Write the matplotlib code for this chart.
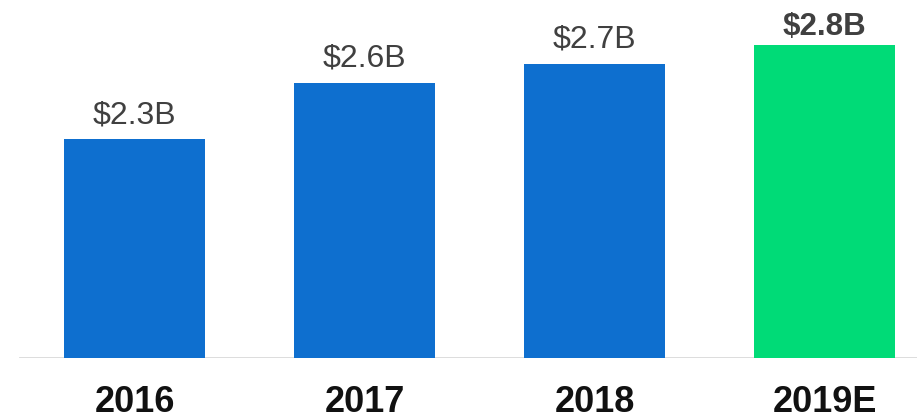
import matplotlib
matplotlib.use("Agg")
import matplotlib.pyplot as plt

categories = ["2016", "2017", "2018", "2019E"]
values = [2.3, 2.6, 2.7, 2.8]
labels = ["$2.3B", "$2.6B", "$2.7B", "$2.8B"]
colors = ["#0E6FCF", "#0E6FCF", "#0E6FCF", "#00DB77"]
bold_flags = [False, False, False, True]

plt.rcParams['font.family'] = ['Liberation Sans', 'DejaVu Sans']

fig = plt.figure(figsize=(9.17, 4.18), dpi=100)
ax = fig.add_axes([0, 0.1443, 1, 0.8557])
x = list(range(len(categories)))
ax.bar(x, values, width=0.613, color=colors, zorder=2)
ax.set_xlim(-0.585, 3.402)
ax.set_ylim(1.137, 3.04)

for xi, v, lab, b in zip(x, values, labels, bold_flags):
    ax.annotate(lab, (xi, v), xytext=(0, 7.5 if b else 11.5), textcoords="offset points",
                ha="center", va="baseline", fontsize=23 if not b else 22.5,
                fontweight="bold" if b else "normal", color="#404040")

ax.axhline(1.137, xmin=20/917, xmax=1, color="#d9d9d9", lw=2, zorder=1)
for s in ax.spines.values():
    s.set_visible(False)
ax.set_yticks([])
ax.set_xticks(x)
ax.set_xticklabels(categories, fontsize=26, fontweight="bold", color="#111111")
ax.tick_params(axis="x", length=0, pad=20)
fig.savefig("out.png", dpi=100)
